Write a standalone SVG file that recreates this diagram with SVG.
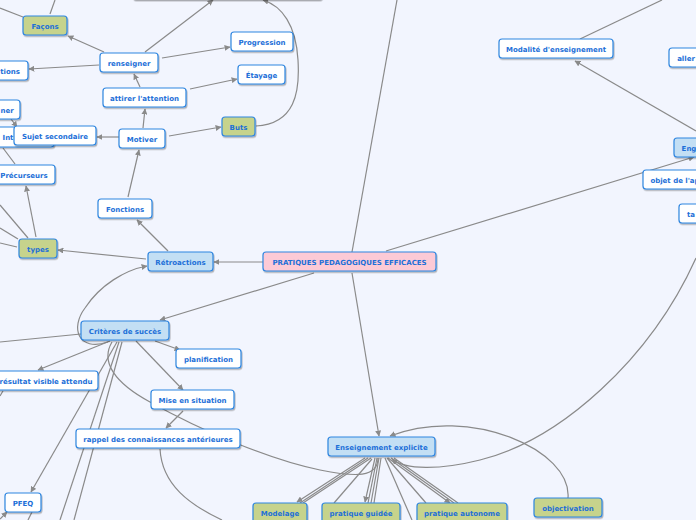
<svg xmlns="http://www.w3.org/2000/svg" width="696" height="520" viewBox="0 0 696 520">
<defs>
<style>
.n rect{stroke:#2f86e0;stroke-width:1.2;filter:url(#sh)}
.w rect{fill:#ffffff}
.b rect{fill:#c3dff4}
.g rect{fill:#c6d38c}
.p rect{fill:#fccad6}
.n text{font-family:"DejaVu Sans",Verdana,sans-serif;font-weight:bold;font-size:7px;fill:#1d6fd8;text-anchor:middle}
.c path{fill:none;stroke:#8a8a8a;stroke-width:1.2}
.c .a{marker-end:url(#ar)}
</style>
<filter id="sh" x="-20%" y="-30%" width="140%" height="170%">
<feDropShadow dx="0.8" dy="1.4" stdDeviation="0.7" flood-color="#000" flood-opacity="0.3"/>
</filter>
<marker id="ar" viewBox="0 0 10 10" refX="9" refY="5" markerWidth="6" markerHeight="6" markerUnits="userSpaceOnUse" orient="auto">
<path d="M0,0 L10,5 L0,10 z" fill="#8a8a8a"/>
</marker>
</defs>
<rect x="0" y="0" width="696" height="520" fill="#f2f5fe"/>
<g id="connectors" class="c">
<path class="a" d="M263,262 L214,262"/>
<path class="a" d="M314,273 L160,320"/>
<path class="a" d="M352,273 L379,436"/>
<path d="M352,252 L397,0"/>
<path class="a" d="M386,251 L694,157"/>
<path class="a" d="M696,131 L575,61"/>
<path d="M580,39 L662,0"/>
<path class="a" d="M168,251 L137,220"/>
<path class="a" d="M146,259 L58,250"/>
<path class="a" d="M128,197 L139,150"/>
<path class="a" d="M143,128 L145,109"/>
<path class="a" d="M119,137 L97,137"/>
<path class="a" d="M169,136 L221,127"/>
<path class="a" d="M256,126 C295,124 300,92 298,60 C296,25 282,6 263,0"/>
<path class="a" d="M140,87 L134,74"/>
<path class="a" d="M190,89 L237,79"/>
<path class="a" d="M162,58 L230,47"/>
<path class="a" d="M145,52 L213,0"/>
<path class="a" d="M104,52 L68,36"/>
<path class="a" d="M99,65 L29,69"/>
<path d="M50,14 L55,0"/>
<path d="M0,8 L23,17"/>
<path class="a" d="M36,237 L26,186"/>
<path class="a" d="M11,119 L17,127"/>
<path d="M3,148 L15,164"/>
<path d="M0,205 L28,238"/>
<path d="M0,228 L18,239"/>
<path d="M0,243 L17,247"/>
<path class="a" d="M108,342 C78,352 70,328 85,308 C100,285 125,270 147,266"/>
<path class="a" d="M110,341 L38,370"/>
<path class="a" d="M155,341 L180,350"/>
<path class="a" d="M136,341 L183,390"/>
<path d="M81,334 L0,342"/>
<path class="a" d="M117,342 L31,492"/>
<path d="M119,342 L60,520"/>
<path d="M122,342 L74,520"/>
<path d="M112,342 C100,362 115,383 150,402 C200,430 270,460 320,470 C355,477 378,478 378,458"/>
<path d="M160,449 C162,485 190,505 222,520"/>
<path class="a" d="M183,411 L166,428"/>
<path d="M3,391 L0,396"/>
<path class="a" d="M0,519 L7,512"/>
<path d="M32,512 L28,520"/>
<path class="a" d="M568,498 C572,450 470,405 390,436"/>
<path class="a" d="M696,258 C650,360 560,440 480,460 C440,470 405,470 392,459"/>
<path class="a" d="M365,458 L297,502"/>
<path d="M368,458 L300,503"/>
<path d="M371,458 L303,503"/>
<path d="M372,459 L334,503"/>
<path class="a" d="M375,458 L365,502"/>
<path d="M377,458 L368,503"/>
<path d="M379,458 L371,503"/>
<path d="M381,458 L374,503"/>
<path d="M385,458 L412,520"/>
<path d="M387,458 L426,503"/>
<path class="a" d="M388,458 L450,503"/>
<path d="M391,458 L454,503"/>
<path d="M394,458 L458,503"/>
</g>
<g id="n_top" class="n w"><rect x="133" y="-20" width="189" height="19.5" rx="3"/></g>
<g id="n_central" class="n p"><rect x="263" y="252" width="173" height="19" rx="3"/><text x="349.5" y="264.5">PRATIQUES PEDAGOGIQUES EFFICACES</text></g>
<g id="n_retro" class="n b"><rect x="148" y="252" width="65" height="19" rx="3"/><text x="180.5" y="264.5">Rétroactions</text></g>
<g id="n_fonctions" class="n w"><rect x="98" y="199" width="54" height="19" rx="3"/><text x="125" y="211.5">Fonctions</text></g>
<g id="n_motiver" class="n w"><rect x="119" y="129" width="46" height="19" rx="3"/><text x="142" y="141.5">Motiver</text></g>
<g id="n_attirer" class="n w"><rect x="103" y="88" width="83" height="19" rx="3"/><text x="144.5" y="100.5">attirer l'attention</text></g>
<g id="n_renseigner" class="n w"><rect x="100" y="53" width="58" height="19" rx="3"/><text x="129" y="65.5">renseigner</text></g>
<g id="n_facons" class="n g"><rect x="23" y="16" width="44" height="19" rx="3"/><text x="45" y="28.5">Façons</text></g>
<g id="n_progression" class="n w"><rect x="231" y="32" width="62" height="19" rx="3"/><text x="262" y="44.5">Progression</text></g>
<g id="n_etayage" class="n w"><rect x="238" y="65" width="47" height="19" rx="3"/><text x="261.5" y="77.5">Étayage</text></g>
<g id="n_buts" class="n g"><rect x="222" y="117" width="33" height="19" rx="3"/><text x="238.5" y="129.5">Buts</text></g>
<g id="n_ner" class="n w"><rect x="-10" y="100" width="30" height="19" rx="3"/><text x="7" y="112.5">ner</text></g>
<g id="n_int" class="n w"><rect x="-5" y="127" width="59" height="20" rx="3"/><text x="8" y="140">Int</text></g>
<g id="n_sujet" class="n w"><rect x="14" y="126" width="82" height="19" rx="3"/><text x="55" y="138.5">Sujet secondaire</text></g>
<g id="n_tions" class="n w"><rect x="-10" y="61" width="38" height="19" rx="3"/><text x="10" y="73.5">tions</text></g>
<g id="n_precurseurs" class="n w"><rect x="-10" y="165" width="65" height="19" rx="3"/><text x="24" y="177.5">Précurseurs</text></g>
<g id="n_types" class="n g"><rect x="19" y="239" width="38" height="19" rx="3"/><text x="38" y="251.5">types</text></g>
<g id="n_criteres" class="n b"><rect x="81" y="321" width="88" height="19" rx="3"/><text x="125" y="333.5">Critères de succès</text></g>
<g id="n_planification" class="n w"><rect x="176" y="349" width="65" height="19" rx="3"/><text x="208.5" y="361.5">planification</text></g>
<g id="n_resultat" class="n w"><rect x="-10" y="371" width="108" height="19" rx="3"/><text x="46" y="383.5">résultat visible attendu</text></g>
<g id="n_mise" class="n w"><rect x="151" y="390" width="83" height="19" rx="3"/><text x="192.5" y="402.5">Mise en situation</text></g>
<g id="n_rappel" class="n w"><rect x="76" y="429" width="164" height="19" rx="3"/><text x="158" y="441.5">rappel des connaissances antérieures</text></g>
<g id="n_pfeq" class="n w"><rect x="5" y="493" width="36" height="19" rx="3"/><text x="23" y="505.5">PFEQ</text></g>
<g id="n_enseignement" class="n b"><rect x="328" y="437" width="107" height="19" rx="3"/><text x="381.5" y="449.5">Enseignement explicite</text></g>
<g id="n_modelage" class="n g"><rect x="253" y="503" width="54" height="20" rx="3"/><text x="280" y="516">Modelage</text></g>
<g id="n_guidee" class="n g"><rect x="322" y="503" width="78" height="20" rx="3"/><text x="361" y="516">pratique guidée</text></g>
<g id="n_autonome" class="n g"><rect x="417" y="503" width="90" height="20" rx="3"/><text x="462" y="516">pratique autonome</text></g>
<g id="n_objectivation" class="n g"><rect x="534" y="498" width="68" height="19" rx="3"/><text x="568" y="510.5">objectivation</text></g>
<g id="n_modalite" class="n w"><rect x="499" y="39" width="114" height="19" rx="3"/><text x="556" y="51.5">Modalité d'enseignement</text></g>
<g id="n_aller" class="n w"><rect x="669" y="48" width="40" height="19" rx="3"/><text x="686" y="60.5">aller</text></g>
<g id="n_eng" class="n b"><rect x="674" y="138" width="30" height="19" rx="3"/><text x="689" y="150.5">Eng</text></g>
<g id="n_objet" class="n w"><rect x="643" y="170" width="60" height="19" rx="3"/><text x="675" y="182.5">objet de l'ap</text></g>
<g id="n_ta" class="n w"><rect x="679" y="204" width="25" height="19" rx="3"/><text x="691" y="216.5">ta</text></g>
</svg>
